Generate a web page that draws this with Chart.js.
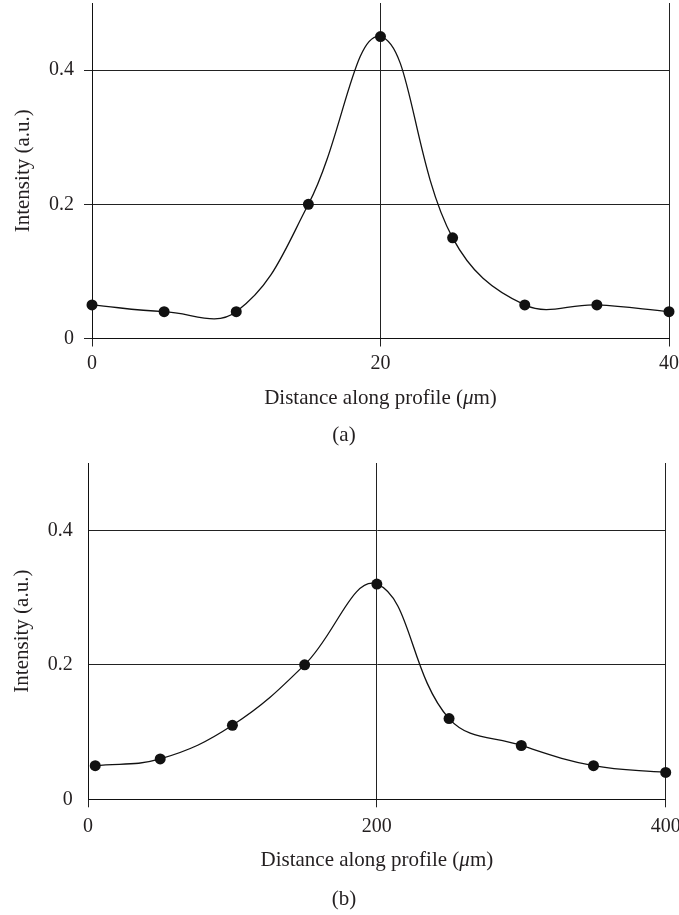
<!DOCTYPE html>
<html>
<head>
<meta charset="utf-8">
<script src="https://cdn.jsdelivr.net/npm/chart.js@4/dist/chart.umd.min.js"></script>
<style>
  html, body { margin: 0; padding: 0; background: #fff; }
  #wrap { position: relative; width: 679px; height: 915px; }
  canvas { position: absolute; left: 0; }
  #chartA { top: 0; }
  #chartB { top: 461px; }
</style>
</head>
<body>
<div id="wrap">
  <canvas id="chartA" width="679" height="461"></canvas>
  <canvas id="chartB" width="679" height="454"></canvas>
</div>
<script>
// panel (a)
const distA = [0, 5, 10, 15, 20, 25, 30, 35, 40];
const intensityA = [0.05, 0.04, 0.04, 0.2, 0.45, 0.15, 0.05, 0.05, 0.04];
const xTicksA = [0, 20, 40];

// panel (b)
const distB = [5, 50, 100, 150, 200, 250, 300, 350, 400];
const intensityB = [0.05, 0.06, 0.11, 0.2, 0.32, 0.12, 0.08, 0.05, 0.04];
const xTicksB = [0, 200, 400];

const yTicks = [0, 0.2, 0.4];
const yTitle = 'Intensity (a.u.)';
// x title pieces, the mu is set in italic
const xTitleParts = [
  { text: 'Distance along profile (', italic: false },
  { text: 'μ', italic: true },
  { text: 'm)', italic: false },
];

const FONT = '"Liberation Serif", "Times New Roman", serif';
const INK = '#231f20';

// draws the x axis title (with italic mu) and the panel caption under the chart
const captionPlugin = {
  id: 'captions',
  afterDraw(chart, args, opts) {
    const { ctx, chartArea } = chart;
    ctx.save();
    ctx.fillStyle = INK;
    ctx.textBaseline = 'middle';
    ctx.textAlign = 'left';
    const fontFor = (italic) => (italic ? 'italic ' : '') + '21px ' + FONT;
    const widths = xTitleParts.map(p => {
      ctx.font = fontFor(p.italic);
      return ctx.measureText(p.text).width;
    });
    const total = widths.reduce((a, b) => a + b, 0);
    let x = (chartArea.left + chartArea.right) / 2 - total / 2;
    const y = chartArea.bottom + opts.titleOffset;
    xTitleParts.forEach((p, i) => {
      ctx.font = fontFor(p.italic);
      ctx.fillText(p.text, x, y);
      x += widths[i];
    });

    ctx.font = fontFor(false);
    ctx.textAlign = 'center';
    ctx.fillText(opts.caption, opts.captionX, chartArea.bottom + opts.captionOffset);
    ctx.restore();
  }
};

function makeChart(id, xs, ys, xTicks, cfg) {
  const ctx = document.getElementById(id).getContext('2d');
  return new Chart(ctx, {
    type: 'line',
    data: {
      datasets: [{
        data: xs.map((x, i) => ({ x: x, y: ys[i] })),
        borderColor: '#111',
        borderWidth: 1.3,
        tension: 0.4,
        pointRadius: 5.5,
        pointHoverRadius: 5.5,
        pointBackgroundColor: '#111',
        pointBorderWidth: 0,
        clip: false,
      }],
    },
    options: {
      responsive: false,
      animation: false,
      events: [],
      layout: { padding: cfg.padding, autoPadding: false },
      plugins: {
        legend: { display: false },
        tooltip: { enabled: false },
        captions: {
          caption: cfg.caption,
          captionX: 344,
          titleOffset: cfg.titleOffset,
          captionOffset: cfg.captionOffset,
        },
      },
      scales: {
        x: {
          type: 'linear',
          min: xTicks[0],
          max: xTicks[xTicks.length - 1],
          afterBuildTicks: (s) => { s.ticks = xTicks.map(v => ({ value: v })); },
          afterFit: (s) => { s.height = 72; s.paddingLeft = 0; s.paddingRight = 0; },
          grid: { color: '#222', lineWidth: 1, drawTicks: true, tickLength: 8 },
          border: { display: true, color: '#111', width: 1 },
          ticks: {
            padding: cfg.xTickPad,
            maxRotation: 0,
            color: INK,
            font: { family: FONT, size: 20 },
            callback: (v) => String(v),
          },
        },
        y: {
          type: 'linear',
          min: 0,
          max: 0.5,
          afterBuildTicks: (s) => { s.ticks = yTicks.map(v => ({ value: v })); },
          afterFit: (s) => { s.width = cfg.yWidth; s.paddingTop = 0; s.paddingBottom = 0; },
          grid: { color: '#222', lineWidth: 1, drawTicks: cfg.yTickMarks, tickLength: 8 },
          border: { display: true, color: '#111', width: 1 },
          ticks: {
            padding: cfg.yTickPad,
            color: INK,
            font: { family: FONT, size: 20 },
            callback: (v) => String(v),
          },
          title: {
            display: true,
            text: yTitle,
            color: INK,
            font: { family: FONT, size: 21 },
            padding: { top: cfg.yTitlePad, bottom: 0 },
          },
        },
      },
    },
    plugins: [captionPlugin],
  });
}

makeChart('chartA', distA, intensityA, xTicksA, {
  padding: { top: 3, right: 10, bottom: 50.5, left: 0 },
  yWidth: 92,
  yTickMarks: true,
  yTickPad: 10,
  yTitlePad: 11,
  xTickPad: 5,
  titleOffset: 59.5,
  captionOffset: 96.5,
  caption: '(a)',
});

makeChart('chartB', distB, intensityB, xTicksB, {
  padding: { top: 2, right: 13.3, bottom: 43.7, left: 0 },
  yWidth: 88,
  yTickMarks: false,
  yTickPad: 15.3,
  yTitlePad: 9.6,
  xTickPad: 7.5,
  titleOffset: 61.5,
  captionOffset: 99.7,
  caption: '(b)',
});
</script>
</body>
</html>
